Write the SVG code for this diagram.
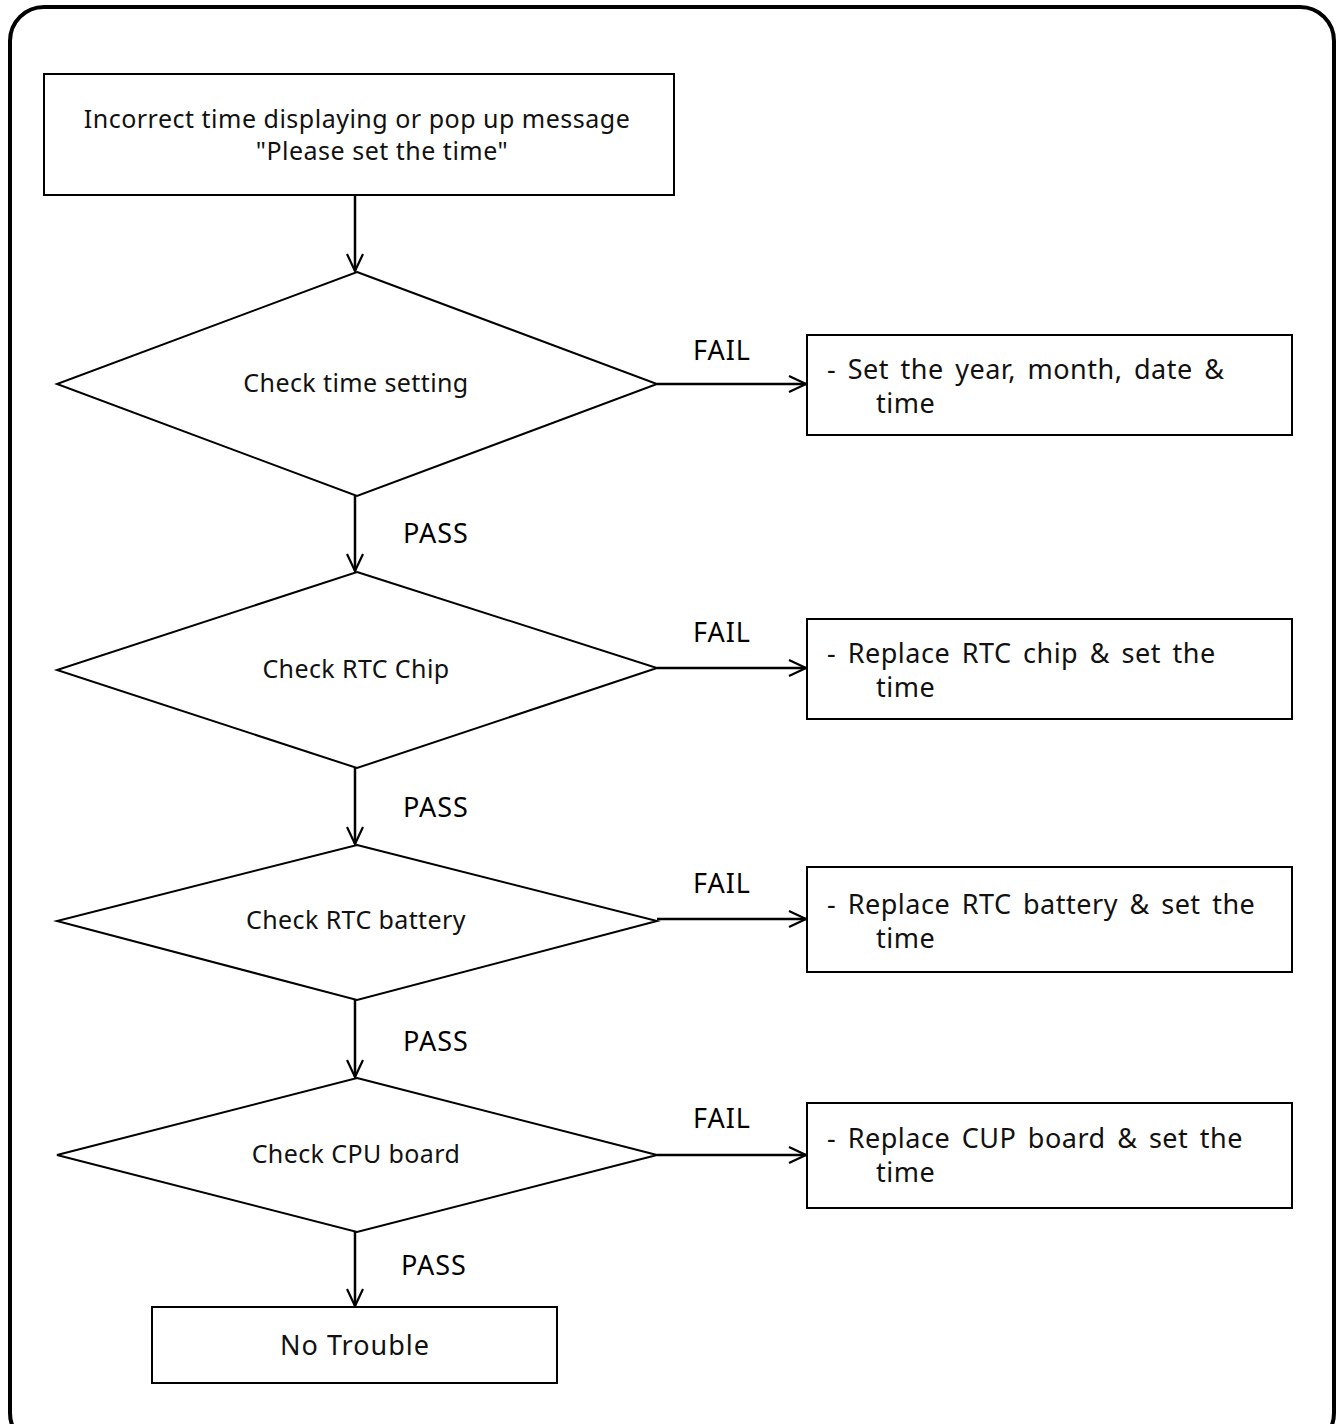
<svg xmlns="http://www.w3.org/2000/svg" width="1341" height="1424" viewBox="0 0 1341 1424">
<defs>
<marker id="arr" viewBox="0 0 20 20" refX="19" refY="10" markerWidth="20" markerHeight="20" markerUnits="userSpaceOnUse" orient="auto">
<path d="M2,2 L19,10 L2,18" fill="none" stroke="#000" stroke-width="2.2"/>
</marker>
<style>
.box{fill:#fff;stroke:#000;stroke-width:2}
.t{font-family:"Noto Sans","Open Sans",sans-serif;font-size:25px;fill:#111;letter-spacing:0.4px}
.top{font-size:25px;letter-spacing:0.5px}
.r{font-size:27px;letter-spacing:0.5px;word-spacing:4px}
.nt{font-size:27px;letter-spacing:1px}
.c{text-anchor:middle}
.lbl{font-family:"Noto Sans","Open Sans",sans-serif;font-size:27px;fill:#000;letter-spacing:1px}
.con{stroke:#000;stroke-width:2.5;fill:none;marker-end:url(#arr)}
</style>
</defs>
<rect width="1341" height="1424" fill="#fff"/>
<rect x="10" y="7" width="1324" height="1440" rx="34" fill="none" stroke="#000" stroke-width="4"/>
<g id="start"><rect class="box" x="44" y="74" width="630" height="121"/>
<text class="t top c" x="357" y="128">Incorrect time displaying or pop up message</text>
<text class="t top c" x="382" y="160">"Please set the time"</text></g>
<g id="d1"><polygon class="box" points="357,272 657,384 357,496 57,384" stroke-width="1.5"/><text class="t c" x="356" y="392">Check time setting</text></g>
<g id="d2"><polygon class="box" points="357,572 657,668 357,768 57,670" stroke-width="1.5"/><text class="t c" x="356" y="678">Check RTC Chip</text></g>
<g id="d3"><polygon class="box" points="357,845 657,921 357,1000 57,921" stroke-width="1.5"/><text class="t c" x="356" y="929">Check RTC battery</text></g>
<g id="d4"><polygon class="box" points="357,1078 657,1155 357,1232 57,1155" stroke-width="1.5"/><text class="t c" x="356" y="1163">Check CPU board</text></g>
<g id="r1"><rect class="box" x="807" y="335" width="485" height="100"/><text class="t r" x="827" y="379">- Set the year, month, date &amp;</text><text class="t r" x="876" y="413">time</text></g>
<g id="r2"><rect class="box" x="807" y="619" width="485" height="100"/><text class="t r" x="827" y="663">- Replace RTC chip &amp; set the</text><text class="t r" x="876" y="697">time</text></g>
<g id="r3"><rect class="box" x="807" y="867" width="485" height="105"/><text class="t r" x="827" y="914">- Replace RTC battery &amp; set the</text><text class="t r" x="876" y="948">time</text></g>
<g id="r4"><rect class="box" x="807" y="1103" width="485" height="105"/><text class="t r" x="827" y="1148">-  Replace CUP board &amp; set the</text><text class="t r" x="876" y="1182">time</text></g>
<g id="end"><rect class="box" x="152" y="1307" width="405" height="76"/><text class="t nt c" x="355" y="1355">No Trouble</text></g>
<g id="connectors">
<line class="con" x1="355" y1="195" x2="355" y2="271"/>
<line class="con" x1="355" y1="496" x2="355" y2="571"/>
<line class="con" x1="355" y1="768" x2="355" y2="844"/>
<line class="con" x1="355" y1="1000" x2="355" y2="1077"/>
<line class="con" x1="355" y1="1232" x2="355" y2="1306"/>
<line class="con" x1="657" y1="384" x2="806" y2="384"/>
<line class="con" x1="657" y1="668" x2="806" y2="668"/>
<line class="con" x1="657" y1="919" x2="806" y2="919"/>
<line class="con" x1="657" y1="1155" x2="806" y2="1155"/>
<text class="lbl c" x="722" y="360">FAIL</text>
<text class="lbl c" x="722" y="642">FAIL</text>
<text class="lbl c" x="722" y="893">FAIL</text>
<text class="lbl c" x="722" y="1128">FAIL</text>
<text class="lbl c" x="436" y="543">PASS</text>
<text class="lbl c" x="436" y="817">PASS</text>
<text class="lbl c" x="436" y="1051">PASS</text>
<text class="lbl c" x="434" y="1275">PASS</text>
</g>
</svg>
